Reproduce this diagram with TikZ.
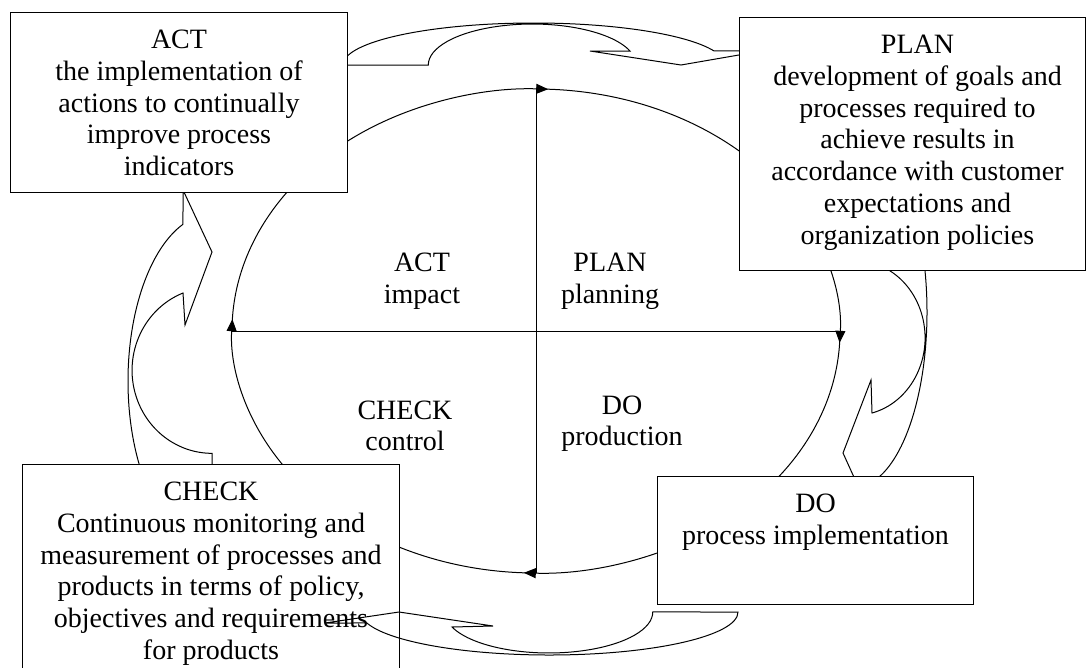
\documentclass[tikz,border=0pt]{standalone}
\usepackage{fontspec}
\setmainfont{Liberation Serif}
\usetikzlibrary{arrows.meta}

\begin{document}
\begin{tikzpicture}[x=1pt,y=-1pt,line width=1pt,
    box/.style={draw=black,fill=white,anchor=north west,inner sep=0pt},
    boxtext/.style={anchor=north,align=center,inner sep=0pt,font={\fontsize{28}{31.8}\selectfont}},
    cyc/.style={-{Triangle[length=12pt,width=10pt]}},
    band/.style={draw=black,line join=miter}]
	\useasboundingbox (0,0) rectangle (1086,667);
	\clip (0,0) rectangle (1086,667);
	% the cycle
	\coordinate (cN) at (536,89);
	\coordinate (cE) at (840,331);
	\coordinate (cS) at (536,573);
	\coordinate (cW) at (232,331);
	\draw [cyc] (cW) arc[start angle=180, end angle=272.3, x radius=304, y radius=242];
	\draw [cyc] (cN) arc[start angle=270, end angle=362.8, x radius=304, y radius=242];
	\draw [cyc] (cE) arc[start angle=0, end angle=92.3, x radius=304, y radius=242];
	\draw [cyc] (cS) arc[start angle=90, end angle=182.8, x radius=304, y radius=242];
	\draw (cN) -- (cS);
	\draw (cW) -- (cE);
	% curved arrows
	\draw [band] (343,65) arc[start angle=180, end angle=340.5, x radius=191, y radius=42]
	  -- (762,51) -- (681,65) -- (590,51) -- (630,51)
	  arc[start angle=340, end angle=180, x radius=104, y radius=41] -- cycle;
	\draw [band] (212,548) arc[start angle=90, end angle=249.8, x radius=84, y radius=167]
	  -- (183,190) -- (212,252) -- (185,325) -- (183,293)
	  arc[start angle=248.7, end angle=90, x radius=80, y radius=83] -- cycle;
	\draw [band] (855,137) arc[start angle=270, end angle=436.3, x radius=72, y radius=175]
	  -- (872,517) -- (843,453) -- (871,380) -- (872,413)
	  arc[start angle=436, end angle=270, x radius=70, y radius=77.4] -- cycle;
	% boxes
	\node [box,minimum width=337pt,minimum height=180pt] (actbox) at (10,12) {};
	\node [boxtext] (acttext) at ([yshift=-17.5pt]actbox.north)
	  {ACT\\the implementation of\\actions to continually\\improve process\\indicators};
	\node [box,minimum width=346pt,minimum height=253pt] (planbox) at (739,17) {};
	\node [boxtext] (plantext) at ([xshift=5pt,yshift=-17.5pt]planbox.north)
	  {PLAN\\development of goals and\\processes required to\\achieve results in\\accordance with customer\\expectations and\\organization policies};
	\node [box,minimum width=316pt,minimum height=128pt] (dobox) at (657,476) {};
	\node [boxtext] (dotext) at ([yshift=-17.5pt]dobox.north)
	  {DO\\process implementation};
	\node [box,minimum width=377pt,minimum height=240pt] (checkbox) at (22,464) {};
	\node [boxtext] (checktext) at ([yshift=-17.5pt]checkbox.north)
	  {CHECK\\Continuous monitoring and\\measurement of processes and\\products in terms of policy,\\objectives and requirements\\for products};
	\draw [band] (738,612) arc[start angle=0, end angle=165.2, x radius=188.7, y radius=43]
	  -- (325,623) -- (399,612) -- (493,626) -- (452,627)
	  arc[start angle=158.5, end angle=0, x radius=104, y radius=41] -- cycle;
	% quarter labels
	\node [boxtext] (actlbl) at (422,252.5) {ACT\\impact};
	\node [boxtext] (planlbl) at (610,252.5) {PLAN\\planning};
	\node [boxtext] (checklbl) at (405,400) {CHECK\\control};
	\node [boxtext] (dolbl) at (622,395) {DO\\production};
\end{tikzpicture}
\end{document}
